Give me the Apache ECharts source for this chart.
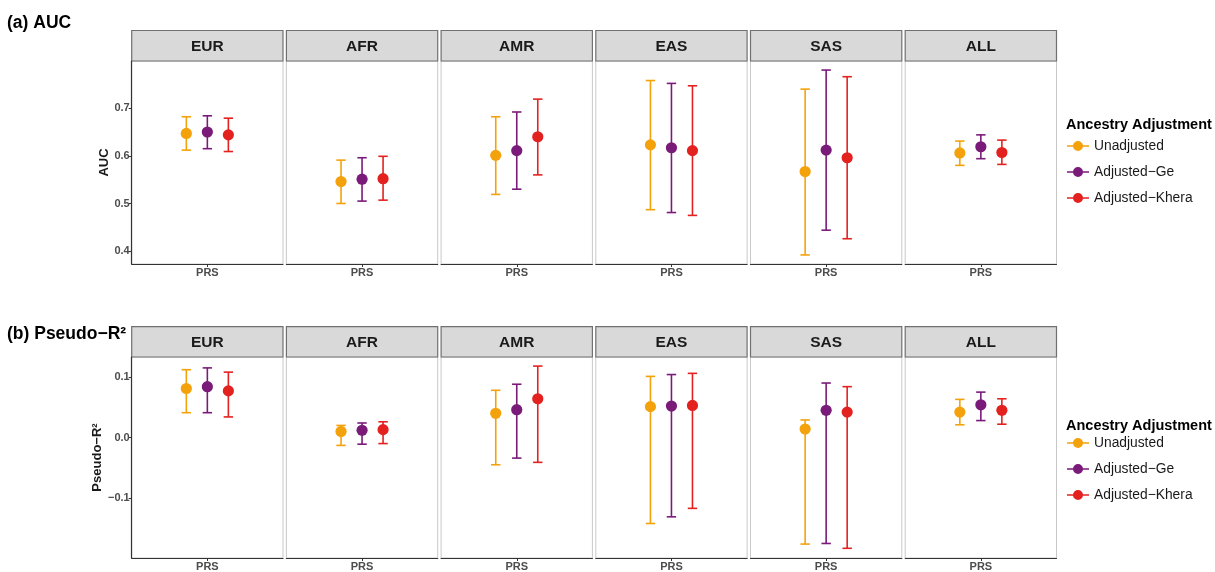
<!DOCTYPE html>
<html>
<head>
<meta charset="utf-8">
<script src="https://cdn.jsdelivr.net/npm/echarts@6/dist/echarts.min.js"></script>
<style>html,body{margin:0;padding:0;background:#fff;}#chart{width:1215px;height:572px;}</style>
</head>
<body>
<div id="chart"></div>
<script>
// ---- data ----
const regions = ['EUR', 'AFR', 'AMR', 'EAS', 'SAS', 'ALL'];
const groups = ['Unadjusted', 'Adjusted\u2212Ge', 'Adjusted\u2212Khera'];
const xCategories = ['PRS'];
// each entry: [estimate, lower, upper], one per region in order
const aucUnadjusted = [[0.647, 0.612, 0.682], [0.546, 0.500, 0.591], [0.601, 0.519, 0.682], [0.623, 0.487, 0.758], [0.567, 0.392, 0.740], [0.606, 0.580, 0.631]];
const aucAdjustedGe = [[0.650, 0.615, 0.684], [0.551, 0.505, 0.596], [0.611, 0.530, 0.692], [0.617, 0.481, 0.752], [0.612, 0.444, 0.780], [0.619, 0.594, 0.644]];
const aucAdjustedKhera = [[0.644, 0.609, 0.679], [0.552, 0.507, 0.599], [0.640, 0.560, 0.719], [0.611, 0.475, 0.747], [0.596, 0.426, 0.766], [0.607, 0.582, 0.633]];
const r2Unadjusted = [[0.081, 0.041, 0.112], [0.010, -0.013, 0.020], [0.040, -0.045, 0.078], [0.051, -0.142, 0.101], [0.014, -0.176, 0.029], [0.042, 0.021, 0.063]];
const r2AdjustedGe = [[0.084, 0.041, 0.115], [0.012, -0.011, 0.024], [0.046, -0.034, 0.088], [0.052, -0.131, 0.104], [0.045, -0.175, 0.090], [0.054, 0.028, 0.075]];
const r2AdjustedKhera = [[0.077, 0.034, 0.108], [0.013, -0.010, 0.026], [0.064, -0.041, 0.118], [0.053, -0.117, 0.106], [0.042, -0.183, 0.084], [0.045, 0.022, 0.064]];
const aucTicks = [0.4, 0.5, 0.6, 0.7];
const r2Ticks = [-0.1, 0, 0.1];

// ---- styling / layout ----
const colors = ['#F4A20B', '#7A1B7A', '#E32220'];
const FONT = '"Liberation Sans", Arial, Helvetica, sans-serif';
const panelLeft0 = 131.7, panelW = 151.3, panelStep = 154.7;
const rows = [
  { title: '(a) AUC', titleTop: 9, top: 61, h: 203, stripTop: 30.5, yName: 'AUC', nameGap: 21,
    min: 0.373, max: 0.799, ticks: aucTicks, sets: [aucUnadjusted, aucAdjustedGe, aucAdjustedKhera],
    legendTitleTop: 112, legendTop: 134 },
  { title: '(b) Pseudo\u2212R\u00b2', titleTop: 320, top: 357, h: 203.7, stripTop: 326.7, yName: 'Pseudo\u2212R\u00b2', nameGap: 27,
    min: -0.199, max: 0.133, ticks: r2Ticks, sets: [r2Unadjusted, r2AdjustedGe, r2AdjustedKhera],
    legendTitleTop: 413, legendTop: 431 }
];

const fmt = v => (v < 0 ? '\u2212' : '') + Math.abs(v).toFixed(1);

const grid = [], xAxis = [], yAxis = [], series = [], graphic = [], title = [], legend = [];

function makeRender(g) {
  return function (params, api) {
    const c = api.coord([api.value(0), api.value(1)]);
    const lo = api.coord([api.value(0), api.value(2)]);
    const hi = api.coord([api.value(0), api.value(3)]);
    const bw = api.size([1, 0])[0];
    const x = c[0] + (g - 1) * bw / 7.2;
    const col = colors[g];
    const ls = { stroke: col, lineWidth: 1.6 };
    const cap = 4.7;
    return {
      type: 'group',
      children: [
        { type: 'line', shape: { x1: x, y1: lo[1], x2: x, y2: hi[1] }, style: ls },
        { type: 'line', shape: { x1: x - cap, y1: lo[1], x2: x + cap, y2: lo[1] }, style: ls },
        { type: 'line', shape: { x1: x - cap, y1: hi[1], x2: x + cap, y2: hi[1] }, style: ls },
        { type: 'circle', shape: { cx: x, cy: c[1], r: 5.6 }, style: { fill: col } }
      ]
    };
  };
}

const legendIcon = 'path://M0,4.2H22V5.8H0Z M16,5A5,5 0 1,1 6,5A5,5 0 1,1 16,5Z';

rows.forEach((row, m) => {
  title.push({ text: row.title, left: 2, top: row.titleTop,
    textStyle: { fontFamily: FONT, fontSize: 17.5, fontWeight: 'bold', color: '#000' } });
  title.push({ text: 'Ancestry Adjustment', left: 1061, top: row.legendTitleTop,
    textStyle: { fontFamily: FONT, fontSize: 14.5, fontWeight: 'bold', color: '#000' } });
  legend.push({ data: groups, orient: 'vertical', left: 1062, top: row.legendTop,
    icon: legendIcon, itemWidth: 22, itemHeight: 10, itemGap: 12, selectedMode: false,
    textStyle: { fontFamily: FONT, fontSize: 13.8, color: '#1a1a1a' } });

  regions.forEach((reg, r) => {
    const idx = m * 6 + r;
    const left = panelLeft0 + r * panelStep;
    grid.push({ left: left, top: row.top, width: panelW, height: row.h,
      show: true, borderColor: '#c9c9c9', borderWidth: 1, backgroundColor: '#fff' });
    xAxis.push({ type: 'category', gridIndex: idx, data: xCategories, boundaryGap: true,
      axisLine: { show: true, onZero: false, lineStyle: { color: '#333', width: 1.2 } },
      axisTick: { show: true, alignWithLabel: true, length: 3, lineStyle: { color: '#333' } },
      axisLabel: { margin: 3, fontFamily: FONT, fontSize: 11, fontWeight: 'bold', color: '#4d4d4d' },
      splitLine: { show: false } });
    const first = r === 0;
    yAxis.push({ type: 'value', gridIndex: idx, min: row.min, max: row.max,
      name: first ? row.yName : '', nameLocation: 'middle', nameGap: row.nameGap,
      nameTextStyle: { fontFamily: FONT, fontSize: 13, fontWeight: 'bold', color: '#1a1a1a' },
      axisLine: { show: first, onZero: false, lineStyle: { color: '#333', width: 1.2 } },
      axisTick: { show: first, length: 3, customValues: row.ticks, lineStyle: { color: '#333' } },
      axisLabel: { show: first, customValues: row.ticks, formatter: fmt, margin: 2,
        fontFamily: FONT, fontSize: 11, fontWeight: 'bold', color: '#4d4d4d' },
      splitLine: { show: false } });
    graphic.push({ type: 'rect', silent: true,
      shape: { x: left, y: row.stripTop, width: panelW, height: row.top - row.stripTop },
      style: { fill: '#d9d9d9', stroke: '#707070', lineWidth: 1.2 } });
    graphic.push({ type: 'text', silent: true,
      x: left + panelW / 2, y: row.stripTop + (row.top - row.stripTop) / 2 + 0.5,
      style: { text: reg, fill: '#1a1a1a', font: 'bold 15.5px ' + FONT, textAlign: 'center', textVerticalAlign: 'middle' } });
    row.sets.forEach((set, g) => {
      const v = set[r];
      series.push({ type: 'custom', name: groups[g], xAxisIndex: idx, yAxisIndex: idx,
        itemStyle: { color: colors[g] }, clip: false,
        data: [[0, v[0], v[1], v[2]]], encode: { x: 0, y: [1, 2, 3] },
        renderItem: makeRender(g) });
    });
  });
});

const chart = echarts.init(document.getElementById('chart'), null, { renderer: 'canvas' });
chart.setOption({ animation: false, backgroundColor: '#fff', title, legend, grid, xAxis, yAxis, series, graphic });
</script>
</body>
</html>
